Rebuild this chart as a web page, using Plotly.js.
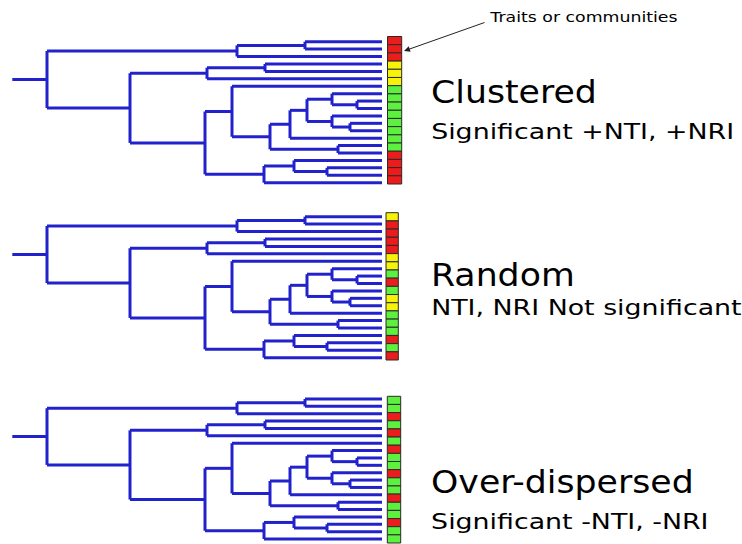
<!DOCTYPE html>
<html>
<head>
<meta charset="utf-8">
<script src="https://cdn.plot.ly/plotly-3.0.1.min.js"></script>
<style>html,body{margin:0;padding:0;background:#fff;}#chart{width:742px;height:544px;}</style>
</head>
<body>
<div id="chart"></div>
<script>
// ---- DATA ----
// Tree topology (same tree drawn three times). Internal nodes with depth and children;
// children are either tip indices (numbers) or node names (strings).
const nodeNames    = ["root","A","A1","B","C","C1","D","E","G","H","J","K","K1","L","L1","I","F","M","M1"];
const nodeDepths   = [47, 237, 305, 130, 207, 265, 205, 232, 270, 290, 307, 332, 357, 332, 350, 338, 264, 294, 327];
const nodeChildren = [["A","B"],["A1",2],[0,1],["C","D"],["C1",5],[3,4],["E","F"],[6,"G"],["H","I"],["J",13],["K","L"],[7,"K1"],[8,9],[10,"L1"],[11,12],[14,15],["M",19],[16,"M1"],[17,18]];
const rootStemStart = 12.3;
const tipDepth = 382;

// Three panels
const panelNames    = ["Clustered","Random","Over-dispersed"];
const panelSubtitle = ["Significant +NTI, +NRI","NTI, NRI Not significant","Significant -NTI, -NRI"];
const panelFirstTip = [41.7, 216.7, 399.0];
const panelTipStep  = [7.42, 7.42, 7.37];
const panelBoxTop   = [36.5, 212.7, 396.3];
const panelBoxBottom= [184.0, 360.0, 543.0];
const panelBoxLeft  = [387.5, 386.0, 387.3];
const panelBoxRight = [401.7, 398.3, 400.7];
const panelTitleY   = [92, 275, 482];
const panelSubY     = [131, 307, 521];

// Trait states per box (R = red, Y = yellow, G = green)
const traitsClustered = ["R","R","R","Y","Y","Y","G","G","G","G","G","G","G","G","R","R","R","R"];
const traitsRandom    = ["Y","R","R","R","R","Y","Y","G","R","G","Y","Y","G","G","G","R","G","R"];
const traitsOver      = ["G","G","R","G","R","G","R","G","G","R","G","G","R","G","G","R","G","G"];
const traitColors = {R:"#ec1c1c", Y:"#f7f20a", G:"#5df03f"};

const calloutText = "Traits or communities";

// ---- BUILD ----
const traitSets = [traitsClustered, traitsRandom, traitsOver];
const idx = {}; nodeNames.forEach((n,i)=>idx[n]=i);

function layoutTree(firstTip, step){
  const xs=[], ys=[];
  function pos(c){
    if (typeof c === "number") return {x: tipDepth, y: firstTip + c*step};
    return place(c);
  }
  function place(name){
    const i = idx[name];
    const d = nodeDepths[i];
    const kids = nodeChildren[i].map(pos);
    const ymin = Math.min(...kids.map(k=>k.y)), ymax = Math.max(...kids.map(k=>k.y));
    xs.push(d,d,null); ys.push(ymin,ymax,null);
    kids.forEach(k=>{ xs.push(d,k.x,null); ys.push(k.y,k.y,null); });
    return {x:d, y:(kids[0].y + kids[kids.length-1].y)/2};
  }
  const r = place("root");
  xs.push(rootStemStart, r.x, null); ys.push(r.y, r.y, null);
  return {xs, ys};
}

const traces = [];
const annotations = [];
const textStretch = [];
for (let p=0;p<3;p++){
  const t = layoutTree(panelFirstTip[p], panelTipStep[p]);
  traces.push({type:"scatter", mode:"lines", x:t.xs, y:t.ys, hoverinfo:"skip",
    line:{color:"#2222cc", width:3}, connectgaps:false, showlegend:false});
  const states = traitSets[p];
  const n = states.length;
  const h = (panelBoxBottom[p]-panelBoxTop[p])/n;
  traces.push({type:"bar", orientation:"v",
    x: states.map(()=> (panelBoxLeft[p]+panelBoxRight[p])/2),
    base: states.map((s,i)=> panelBoxTop[p] + i*h),
    y: states.map(()=> h),
    width: states.map(()=> panelBoxRight[p]-panelBoxLeft[p]),
    marker:{color: states.map(s=>traitColors[s]), line:{color:"#2a2a2a", width:1}},
    hoverinfo:"skip", showlegend:false});
  annotations.push({x:429, y:panelTitleY[p], xref:"x", yref:"y", text:panelNames[p], showarrow:false,
    xanchor:"left", yanchor:"middle", font:{family:"DejaVu Sans", size:32, color:"#000"}});
  textStretch.push(1.085);
  annotations.push({x:429, y:panelSubY[p], xref:"x", yref:"y", text:panelSubtitle[p], showarrow:false,
    xanchor:"left", yanchor:"middle", font:{family:"DejaVu Sans", size:22, color:"#000"}});
  textStretch.push(1.22);
}
annotations.push({x:404, y:51, ax:486, ay:22, axref:"x", ayref:"y", xref:"x", yref:"y",
  text:"", showarrow:true, arrowhead:2, arrowsize:1.2, arrowwidth:1, arrowcolor:"#222"});
textStretch.push(1);
annotations.push({x:487, y:17, xref:"x", yref:"y", text:calloutText, showarrow:false,
  xanchor:"left", yanchor:"middle", font:{family:"DejaVu Sans", size:14, color:"#000"}});
textStretch.push(1.24);

const layout = {
  width:742, height:544, margin:{l:0,r:0,t:0,b:0},
  paper_bgcolor:"#fff", plot_bgcolor:"#fff",
  barmode:"overlay",
  xaxis:{range:[0,742], visible:false, fixedrange:true},
  yaxis:{range:[544,0], visible:false, fixedrange:true},
  annotations, showlegend:false
};
Plotly.newPlot("chart", traces, layout, {staticPlot:true, displayModeBar:false}).then(gd=>{
  gd.querySelectorAll("g.annotation").forEach(g=>{
    const i = +g.getAttribute("data-index");
    const s = textStretch[i];
    if (!s || s===1) return;
    const txt = g.querySelector("text.annotation-text");
    if (!txt) return;
    const bb = txt.getBBox();
    const x0 = bb.x;
    const prev = txt.getAttribute("transform") || "";
    txt.setAttribute("transform", `translate(${x0},0) scale(${s},1) translate(${-x0},0) ${prev}`);
  });
});
</script>
</body>
</html>
